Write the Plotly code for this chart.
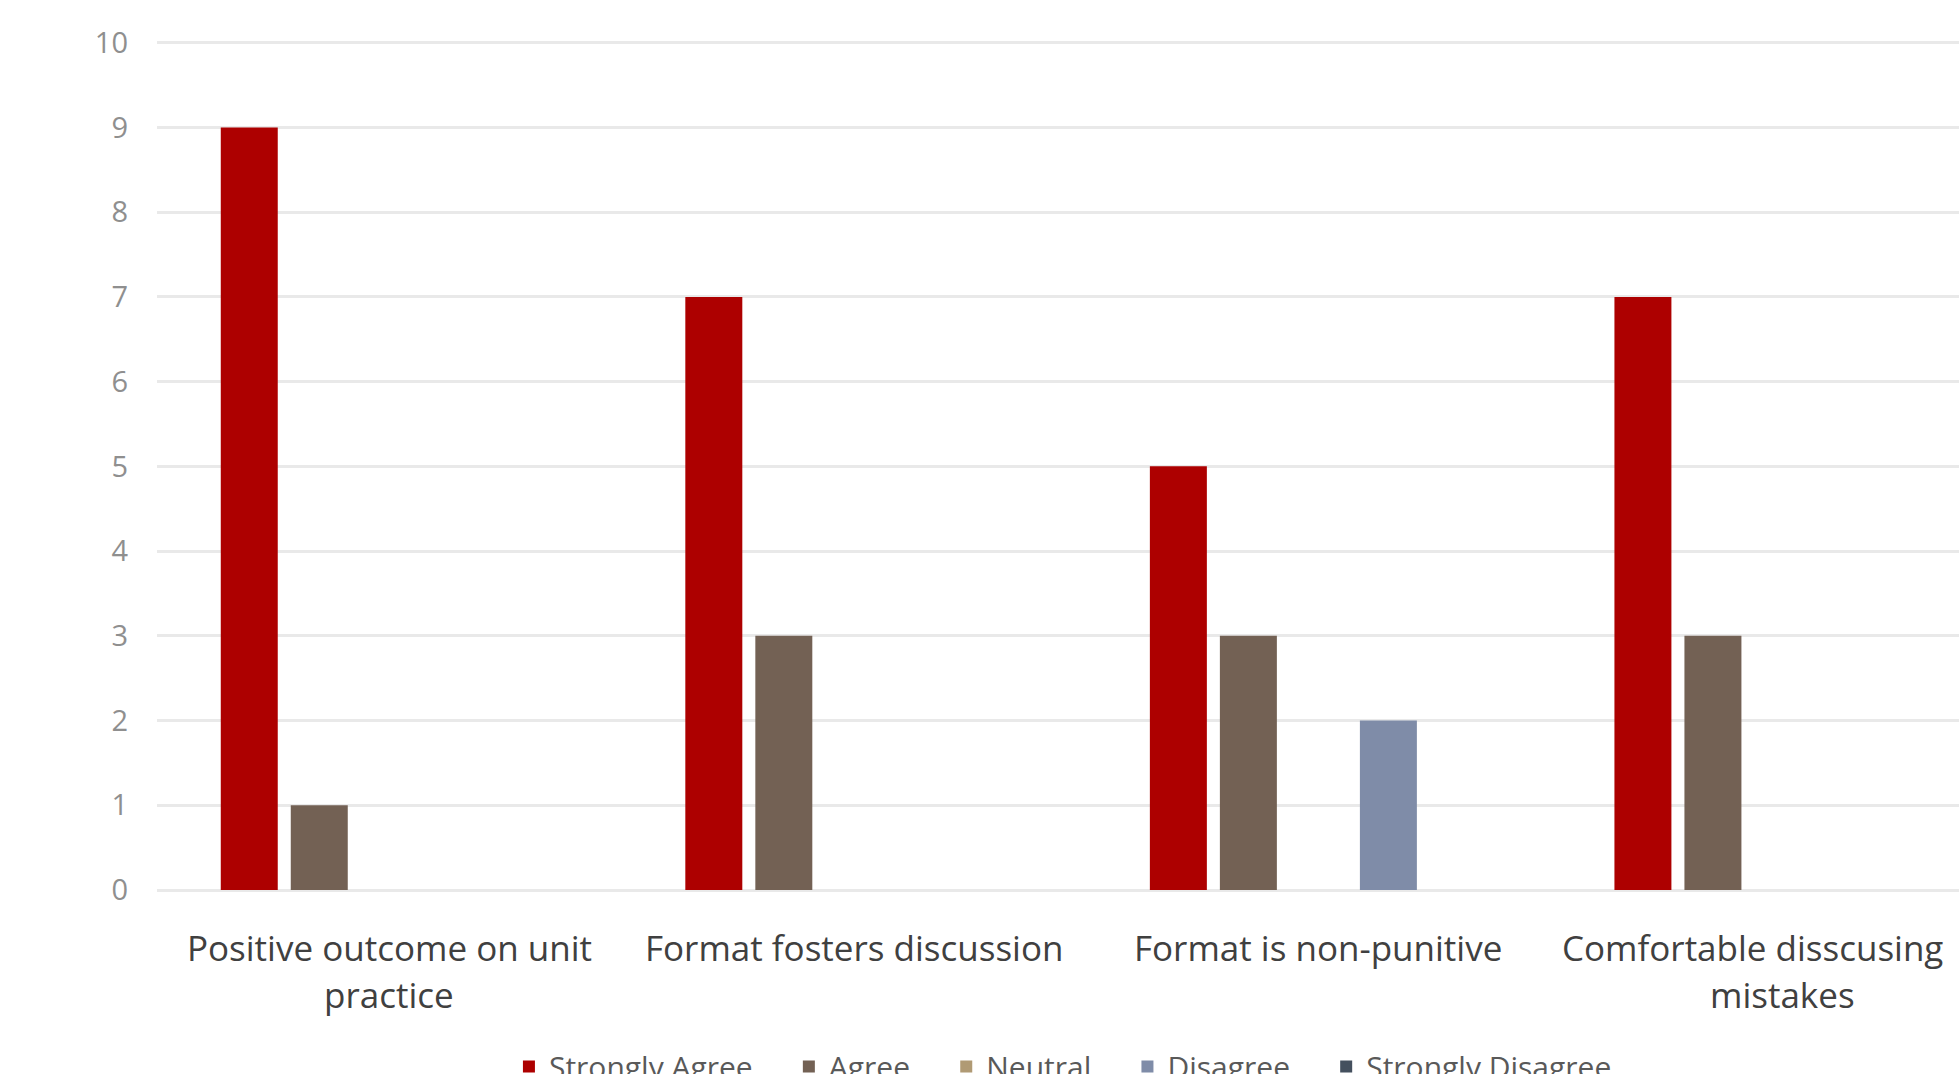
import plotly.graph_objects as go

categories = [
    "Positive outcome on unit practice",
    "Format fosters discussion",
    "Format is non-punitive",
    "Comfortable disscusing mistakes",
]
# label lines as they are wrapped under each category
label_lines = [
    ["Positive outcome on unit", "practice"],
    ["Format fosters discussion"],
    ["Format is non-punitive"],
    ["Comfortable disscusing", "mistakes"],
]
series_names = ["Strongly Agree", "Agree", "Neutral", "Disagree", "Strongly Disagree"]
strongly_agree = [9, 7, 5, 7]
agree = [1, 3, 3, 3]
neutral = [0, 0, 0, 0]
disagree = [0, 0, 2, 0]
strongly_disagree = [0, 0, 0, 0]
series_values = [strongly_agree, agree, neutral, disagree, strongly_disagree]
colors = ["#AD0000", "#736154", "#B09A74", "#7F8CA8", "#44505E"]
y_ticks = list(range(0, 11))

fig = go.Figure()
for name, vals, col in zip(series_names, series_values, colors):
    fig.add_trace(go.Bar(
        x=categories, y=vals, name=name + "\u00a0" * 4,
        marker=dict(color=col, line=dict(width=0)),
    ))

# category labels (the last one's first line is nudged left to stay on the page)
line_shift = [[0, 0], [0], [0], [-30, 0]]
for cat, lines, shifts in zip(categories, label_lines, line_shift):
    for i, (txt, xs) in enumerate(zip(lines, shifts)):
        fig.add_annotation(
            x=cat, xref="x", y=0, yref="paper",
            text=txt, showarrow=False,
            xanchor="center", yanchor="top",
            xshift=xs, yshift=-32 - 47 * i,
            font=dict(family="Open Sans", size=35, color="#404040"),
        )

W, H = 1959, 1074
fig.update_layout(
    width=W, height=H,
    template="none",
    barmode="group",
    bargap=0.2465,
    bargroupgap=0.186,
    paper_bgcolor="white",
    plot_bgcolor="white",
    margin=dict(l=157, r=0, t=41, b=184, autoexpand=False),
    font=dict(family="Open Sans", color="#404040"),
    xaxis=dict(
        type="category",
        range=[-0.5, 3.379],
        showgrid=False, zeroline=False, showline=False,
        ticks="", showticklabels=False,
    ),
    yaxis=dict(
        range=[0, 10.02],
        tickvals=y_ticks,
        showgrid=True, gridcolor="#E9E9E9", gridwidth=3,
        zeroline=True, zerolinecolor="#E9E9E9", zerolinewidth=3,
        showline=False, ticks="",
        tickfont=dict(family="Open Sans", size=29, color="#8F8F8F"),
        ticklabelstandoff=28,
    ),
    legend=dict(
        orientation="h",
        x=0.1953, xanchor="left",
        y=-0.208, yanchor="middle",
        font=dict(family="Open Sans", size=30, color="#595959"),
        bgcolor="rgba(0,0,0,0)",
    ),
    showlegend=True,
)

fig.write_html("out.html")
